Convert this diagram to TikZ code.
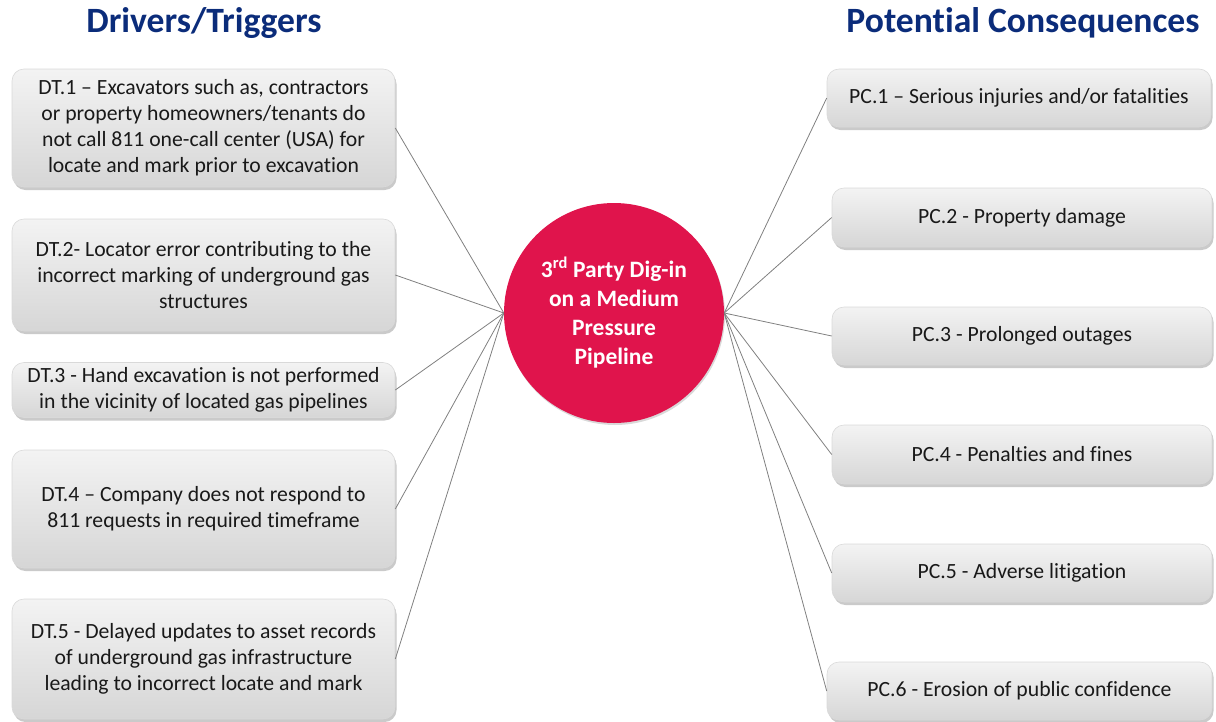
\documentclass[tikz,border=0pt]{standalone}
\usepackage{fontspec}
\setmainfont{Carlito}[Ligatures=NoCommon]
\usetikzlibrary{shadows}
\definecolor{titleblue}{HTML}{0B2C7A}
\definecolor{hubred}{HTML}{E0144C}
\definecolor{linkgray}{HTML}{808080}
\definecolor{boxtop}{HTML}{F3F3F3}
\definecolor{boxbot}{HTML}{D6D6D6}
\tikzset{
  heading/.style={text=titleblue, font=\fontsize{35.6}{43}\selectfont\bfseries},
  issuebox/.style={rounded corners=12pt, draw=black!15, line width=0.6pt,
    top color=boxtop, bottom color=boxbot, align=center, text=black!90,
    font=\fontsize{21.7}{26}\selectfont, inner sep=0pt,
    drop shadow={shadow xshift=1.5pt, shadow yshift=-3pt, opacity=0.35, fill=black!60}},
  hub/.style={circle, fill=hubred, minimum size=220pt, inner sep=0pt, align=center,
    text=white, font=\fontsize{23.5}{29}\selectfont\bfseries,
    drop shadow={shadow xshift=1pt, shadow yshift=-2pt, opacity=0.3}},
  link/.style={draw=linkgray, line width=0.8pt}
}
\begin{document}
\begin{tikzpicture}[x=1pt, y=-1pt]
  \useasboundingbox (0,0) rectangle (1216,721);
  % headings
  \node[heading] (drvtitle) at (204,23) {Drivers/Triggers};
  \node[heading] (contitle) at (1023,23) {Potential Consequences};
  % centre event
  \node[hub] (event) at (614,313) {3\textsuperscript{rd} Party Dig-in\\on a Medium\\Pressure\\Pipeline};
  % drivers / triggers
  \node[issuebox, minimum width=383pt, minimum height=118pt] (dt1) at (203.5,128)
    {DT.1 -- Excavators such as, contractors\\or property homeowners/tenants do\\not call 811 one-call center (USA) for\\locate and mark prior to excavation};
  \node[issuebox, minimum width=383pt, minimum height=112pt] (dt2) at (203.5,275)
    {DT.2- Locator error contributing to the\\incorrect marking of underground gas\\structures};
  \node[issuebox, minimum width=383pt, minimum height=55pt] (dt3) at (203.5,390)
    {DT.3 - Hand excavation is not performed\\in the vicinity of located gas pipelines};
  \node[issuebox, minimum width=383pt, minimum height=118pt] (dt4) at (203.5,509)
    {DT.4 -- Company does not respond to\\811 requests in required timeframe};
  \node[issuebox, minimum width=383pt, minimum height=120pt] (dt5) at (203.5,659)
    {DT.5 - Delayed updates to asset records\\of underground gas infrastructure\\leading to incorrect locate and mark};
  % potential consequences
  \node[issuebox, minimum width=384pt, minimum height=58pt] (pc1) at (1019,98)
    {PC.1 -- Serious injuries and/or fatalities};
  \node[issuebox, minimum width=380pt, minimum height=59pt] (pc2) at (1022,217.5)
    {PC.2 - Property damage};
  \node[issuebox, minimum width=380pt, minimum height=58pt] (pc3) at (1022,336)
    {PC.3 - Prolonged outages};
  \node[issuebox, minimum width=380pt, minimum height=59pt] (pc4) at (1022,454.5)
    {PC.4 - Penalties and fines};
  \node[issuebox, minimum width=380pt, minimum height=58pt] (pc5) at (1022,573)
    {PC.5 - Adverse litigation};
  \node[issuebox, minimum width=385pt, minimum height=58pt] (pc6) at (1019.5,691)
    {PC.6 - Erosion of public confidence};
  % connectors
  \foreach \n in {dt1,dt2,dt3,dt4,dt5}
    \draw[link] (event.west) -- (\n.east);
  \foreach \n in {pc1,pc2,pc3,pc4,pc5,pc6}
    \draw[link] (event.east) -- (\n.west);
\end{tikzpicture}
\end{document}
